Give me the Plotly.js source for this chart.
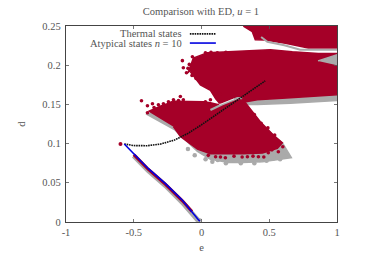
<!DOCTYPE html>
<html><head><meta charset="utf-8">
<script src="https://cdn.plot.ly/plotly-3.0.1.min.js"></script>
<style>html,body{margin:0;padding:0;background:#fff}</style></head>
<body><div id="c" style="width:374px;height:262px"></div>
<script>
const CRIMSON='#a50028', GRAY='#aaaaaa', TXT='#555555';
// ED clouds: outlines
const lowerGrayE=[-0.41,-0.2,-0.03,0.066,0.2,0.3,0.45,0.663,0.6,0.34,0,-0.3];
const lowerGrayD=[0.138,0.118,0.09,0.08,0.076,0.076,0.077,0.082,0.1,0.14,0.15,0.145];
const lowerE=[-0.392,-0.3,-0.2,-0.03,0.014,0.066,0.12,0.2,0.287,0.325,0.434,0.53,0.597,0.56,0.45,0.309,0.191,0.066,-0.03,-0.156,-0.207];
const lowerD=[0.141,0.148,0.154,0.154,0.1535,0.152,0.15,0.152,0.154,0.152,0.128,0.111,0.101,0.094,0.088,0.087,0.087,0.087,0.093,0.109,0.1216];
const midGrayE=[0.1,0.287,0.412,0.656,1,1,0.656,0.412,0.3,0.1];
const midGrayD=[0.166,0.15,0.15,0.1515,0.155,0.18,0.17,0.17,0.17,0.18];
const midE=[-0.1,-0.06,0.044,0.235,0.508,0.67,0.862,1,1,0.656,0.412,0.287,0.13,0.105,0.066,-0.008,-0.082];
const midD=[0.19,0.209,0.216,0.2178,0.2198,0.2172,0.215,0.215,0.1624,0.1585,0.156,0.152,0.152,0.157,0.168,0.175,0.1917];
const upperE=[0.309,0.375,0.397,0.471,0.619,0.788,1,1];
const upperD=[0.25,0.2427,0.2325,0.232,0.228,0.222,0.222,0.25];
const sliverTopE=[0.44,0.486,0.611,0.729,0.877,1];
const sliverTopD=[0.236,0.2298,0.2255,0.2198,0.2198,0.2198];
const wedgeE=[0.86,1,1];
const wedgeD=[0.2055,0.2134,0.2];
const sliverMidE=[0.066,0.15,0.265,0.3];
const sliverMidD=[0.143,0.15,0.158,0.158];
const sliverWhiteE=[0.13,0.19,0.24];
const sliverWhiteD=[0.1495,0.154,0.157];
const grayDotsE=[-0.1,-0.05,0.03,0.08,0.12,0.18,0.24,0.29,0.34,0.39,0.43,0.48,0.53,0.58,0.62,0.13,0.17];
const grayDotsD=[0.093,0.085,0.08,0.077,0.079,0.075,0.078,0.075,0.079,0.075,0.079,0.078,0.081,0.08,0.084,0.165,0.163];
const dotsE=[-0.141,-0.134,-0.111,-0.443,-0.399,-0.362,-0.399,-0.318,-0.281,-0.244,-0.207,-0.156,-0.134,-0.193,-0.281,-0.34,-0.25,-0.2,-0.3,-0.35,-0.32,-0.26,-0.22,-0.17,0.029,0.066,0.104,0.139,0.104,0.176,0.339,0.42,0.493,0.567,-0.067,0.029,0.07,0.117,0.18,-0.09,-0.06,0.05,0.14,0.24,0.3,0.38,0.46,0.52,0.6,0.39,0.44,0.49,0.54,-0.1,-0.07,-0.04];
const dotsD=[0.2058,0.1968,0.1904,0.1547,0.1483,0.1509,0.1394,0.1496,0.1509,0.1534,0.156,0.16,0.156,0.152,0.1432,0.1394,0.147,0.15,0.146,0.146,0.143,0.148,0.152,0.155,0.1534,0.156,0.164,0.163,0.0833,0.082,0.0833,0.0833,0.0884,0.0897,0.2108,0.2159,0.2165,0.2159,0.2165,0.201,0.194,0.085,0.083,0.084,0.083,0.084,0.083,0.092,0.096,0.137,0.126,0.12,0.111,0.196,0.187,0.183];
const tipE=[-0.598]; const tipD=[0.0995];
const stripGrayE=[-0.5,-0.392,-0.266,-0.141,-0.03,-0.005];
const stripGrayD=[0.0845,0.0655,0.0465,0.025,0.003,0.001];
const stripE=[-0.5,-0.392,-0.266,-0.141,-0.07];
const stripD=[0.086,0.067,0.048,0.027,0.0135];
// Curves
const thermalE=[-0.57,-0.5,-0.4,-0.3,-0.2,-0.1,0,0.1,0.2,0.3,0.4,0.47];
const thermalD=[0.0995,0.0975,0.0973,0.0995,0.1045,0.113,0.124,0.136,0.148,0.16,0.172,0.18];
const blueE=[-0.57,-0.392,-0.266,-0.141,-0.023,-0.012];
const blueD=[0.0995,0.068,0.0489,0.0278,0.003,0.001];
// Labels
const xTicks=[-1,-0.5,0,0.5,1], xLabels=['-1','-0.5','0','0.5','1'];
const yTicks=[0,0.05,0.1,0.15,0.2,0.25], yLabels=['0','0.05','0.1','0.15','0.2','0.25'];

const poly=(x,y,c)=>({x,y,mode:'lines',fill:'toself',fillcolor:c,line:{color:c,width:1.5},hoverinfo:'skip'});
const dots=(x,y,c,s)=>({x,y,mode:'markers',marker:{color:c,size:s},hoverinfo:'skip'});
const ln=(x,y,c,w,dash)=>({x,y,mode:'lines',line:{color:c,width:w,dash:dash||'solid'},hoverinfo:'skip'});
const data=[
 poly(lowerGrayE,lowerGrayD,GRAY),poly(midGrayE,midGrayD,GRAY),
 dots(grayDotsE,grayDotsD,GRAY,4.5),
 ln(stripGrayE,stripGrayD,GRAY,5),
 poly(lowerE,lowerD,CRIMSON),poly(midE,midD,CRIMSON),poly(upperE,upperD,CRIMSON),
 ln(sliverTopE,sliverTopD,GRAY,2),poly(wedgeE,wedgeD,GRAY),ln(sliverMidE,sliverMidD,GRAY,2.2),ln(sliverWhiteE,sliverWhiteD,'#ffffff',0.7),
 dots(dotsE,dotsD,CRIMSON,3.6),dots(tipE,tipD,CRIMSON,4),
 ln(stripE,stripD,CRIMSON,3),
 ln(thermalE,thermalD,'#111111',1.6,'1.6px 0.8px'),
 ln(blueE,blueD,'#0000e0',1.6)
];
const axis=(v,t)=>({range:[v[0],v[v.length-1]],tickmode:'array',tickvals:v,ticktext:t,ticks:'inside',ticklen:3,tickwidth:0.8,tickcolor:'#555',
  showline:true,linecolor:'#444',linewidth:1.2,mirror:'ticks',showgrid:false,zeroline:false,layer:'above traces',fixedrange:true});
const f={family:'"Liberation Serif",serif',size:10.5,color:TXT};
const layout={width:374,height:262,margin:{l:65.5,r:37.3,t:26,b:39.7},showlegend:false,paper_bgcolor:'#fff',plot_bgcolor:'#fff',font:f,
 title:{text:'Comparison with ED, <i>u</i> = 1',font:{...f},x:0.537,xanchor:'center',y:0.955,yanchor:'middle'},
 xaxis:{...axis(xTicks,xLabels),title:{text:'e',font:f,standoff:6}},
 yaxis:{...axis(yTicks,yLabels),ticklabelstandoff:2,title:{text:'d',font:f,standoff:14}},
 annotations:[
  {text:'Thermal states',xref:'paper',yref:'paper',x:0.435,y:0.96,xanchor:'right',yanchor:'middle',showarrow:false,font:f},
  {text:'Atypical states <i>n</i> = 10',xref:'paper',yref:'paper',x:0.435,y:0.913,xanchor:'right',yanchor:'middle',showarrow:false,font:f}],
 shapes:[
  {type:'line',xref:'paper',yref:'paper',x0:0.457,x1:0.553,y0:0.96,y1:0.96,line:{color:'#111',width:1.6,dash:'1.6px 0.8px'}},
  {type:'line',xref:'paper',yref:'paper',x0:0.457,x1:0.553,y0:0.913,y1:0.913,line:{color:'#0000e0',width:1.6}}]
};
Plotly.newPlot('c',data,layout,{displayModeBar:false,staticPlot:true});
</script></body></html>
